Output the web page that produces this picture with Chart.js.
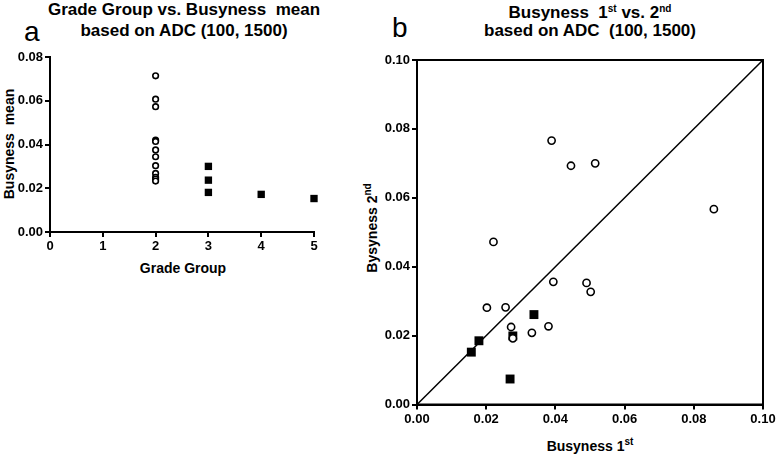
<!DOCTYPE html>
<html>
<head>
<meta charset="utf-8">
<script src="https://cdn.jsdelivr.net/npm/chart.js@4.4.0/dist/chart.umd.min.js"></script>
<style>
  html, body { margin: 0; padding: 0; background: #fff; }
  body { width: 778px; height: 456px; position: relative; overflow: hidden;
         font-family: 'Liberation Sans', Arial, sans-serif; color: #000; }
  .abs { position: absolute; white-space: nowrap; }
  .ttl { font-weight: bold; font-size: 17px; line-height: 20px; transform: translateX(-50%); }
  .axt { font-weight: bold; font-size: 14px; line-height: 16px; }
  .hor { transform: translateX(-50%); }
  .rot { transform: translate(-50%, -50%) rotate(-90deg); }
  .tag { font-size: 28px; line-height: 28px; }
  sup { font-size: 10px; line-height: 0; vertical-align: 6px; }
  #boxA { position: absolute; left: 0; top: 0; width: 340px; height: 300px; }
  #boxB { position: absolute; left: 380px; top: 0; width: 398px; height: 456px; }
</style>
</head>
<body>
  <div class="abs tag" style="left:24px; top:18px;">a</div>
  <div class="abs ttl" style="left:184px; top:0px;">Grade Group vs. Busyness&nbsp; mean</div>
  <div class="abs ttl" style="left:184px; top:21px;">based on ADC (100, 1500)</div>
  <div class="abs axt rot" style="left:9px; top:144px;">Busyness&nbsp; mean</div>
  <div class="abs axt hor" style="left:183px; top:260px;">Grade Group</div>

  <div class="abs tag" style="left:392px; top:14px;">b</div>
  <div class="abs ttl" style="left:590px; top:3px;">Busyness&nbsp; 1<sup>st</sup> vs. 2<sup>nd</sup></div>
  <div class="abs ttl" style="left:590px; top:21px;">based on ADC&nbsp; (100, 1500)</div>
  <div class="abs axt rot" style="left:372px; top:228px;">Bysyness 2<sup>nd</sup></div>
  <div class="abs axt hor" style="left:590px; top:438px;">Busyness 1<sup>st</sup></div>

  <div id="boxA"><canvas id="chartA" width="340" height="300"></canvas></div>
  <div id="boxB"><canvas id="chartB" width="398" height="456"></canvas></div>

<script>
// panel a: grade group vs. busyness mean
const gradeGroups = [2, 3, 4, 5];
const busynessG2 = [0.0714, 0.0607, 0.0573, 0.0420, 0.0414, 0.0375, 0.0344, 0.0303, 0.0268, 0.0250, 0.0242, 0.0233];
const busynessG3 = [0.0300, 0.0237, 0.0181];
const busynessG4 = [0.0172];
const busynessG5 = [0.0153];

// panel b: busyness 1st vs 2nd
const openFirst    = [0.0389, 0.0445, 0.0515, 0.0858, 0.0221, 0.0394, 0.0490, 0.0502, 0.0202, 0.0256, 0.0272, 0.0380, 0.0332, 0.0277];
const openSecond   = [0.0766, 0.0693, 0.0700, 0.0567, 0.0472, 0.0356, 0.0353, 0.0327, 0.0281, 0.0282, 0.0225, 0.0227, 0.0208, 0.0192];
const filledFirst  = [0.0338, 0.0277, 0.0179, 0.0157, 0.0269];
const filledSecond = [0.0261, 0.0199, 0.0185, 0.0152, 0.0074];
const identityLine = [0, 0.1];

const FONT = "'Liberation Sans', Arial, sans-serif";

function axis(min, max, step, decimals, size) {
    return {
        type: 'linear',
        min: min,
        max: max,
        border: { display: true, color: '#000', width: 2 },
        grid: { display: true, drawOnChartArea: false, drawTicks: true, tickLength: 5, color: '#000', lineWidth: 2 },
        ticks: {
            stepSize: step,
            autoSkip: false,
            maxRotation: 0,
            padding: 2,
            color: '#000',
            font: { family: FONT, weight: 'bold', size: 13 },
            callback: (v) => Number(v).toFixed(decimals)
        },
        afterFit: (s) => {
            if (s.isHorizontal()) s.height = size; else s.width = size;
        }
    };
}

const frame = {
    id: 'frame',
    afterDraw(chart) {
        const a = chart.chartArea, c = chart.ctx;
        c.save();
        c.lineWidth = 2;
        c.strokeStyle = '#000';
        c.strokeRect(a.left, a.top, a.right - a.left, a.bottom - a.top);
        c.restore();
    }
};

const groupValues = [busynessG2, busynessG3, busynessG4, busynessG5];
const openA = busynessG2.map(v => ({ x: gradeGroups[0], y: v }));
const filledA = [];
for (let i = 1; i < gradeGroups.length; i++) {
    groupValues[i].forEach(v => filledA.push({ x: gradeGroups[i], y: v }));
}

new Chart(document.getElementById('chartA'), {
    type: 'scatter',
    data: {
        datasets: [
            { data: openA, pointStyle: 'circle', pointRadius: 2.8, borderWidth: 1.6,
              borderColor: '#000', backgroundColor: '#fff', clip: false },
            { data: filledA, pointStyle: 'rect', pointRadius: 5.2, borderWidth: 0,
              borderColor: '#000', backgroundColor: '#000', clip: false }
        ]
    },
    options: {
        responsive: false,
        animation: false,
        events: [],
        layout: { padding: { top: 57, right: 26, bottom: 40, left: 0 } },
        plugins: { legend: { display: false }, tooltip: { enabled: false } },
        scales: {
            x: axis(0, 5, 1, 0, 28),
            y: axis(0, 0.08, 0.02, 2, 50)
        }
    }
});

new Chart(document.getElementById('chartB'), {
    type: 'scatter',
    data: {
        datasets: [
            { data: openFirst.map((v, i) => ({ x: v, y: openSecond[i] })),
              pointStyle: 'circle', pointRadius: 3.6, borderWidth: 1.6,
              borderColor: '#000', backgroundColor: '#fff', clip: false },
            { data: filledFirst.map((v, i) => ({ x: v, y: filledSecond[i] })),
              pointStyle: 'rect', pointRadius: 6.3, borderWidth: 0,
              borderColor: '#000', backgroundColor: '#000', clip: false },
            { data: identityLine.map(v => ({ x: v, y: v })), showLine: true,
              pointRadius: 0, borderWidth: 1.5, borderColor: '#000' }
        ]
    },
    options: {
        responsive: false,
        animation: false,
        events: [],
        layout: { padding: { top: 60, right: 15, bottom: 25.5, left: 0 } },
        plugins: { legend: { display: false }, tooltip: { enabled: false } },
        scales: {
            x: axis(0, 0.1, 0.02, 2, 26),
            y: axis(0, 0.1, 0.02, 2, 37)
        }
    },
    plugins: [frame]
});
</script>
</body>
</html>
